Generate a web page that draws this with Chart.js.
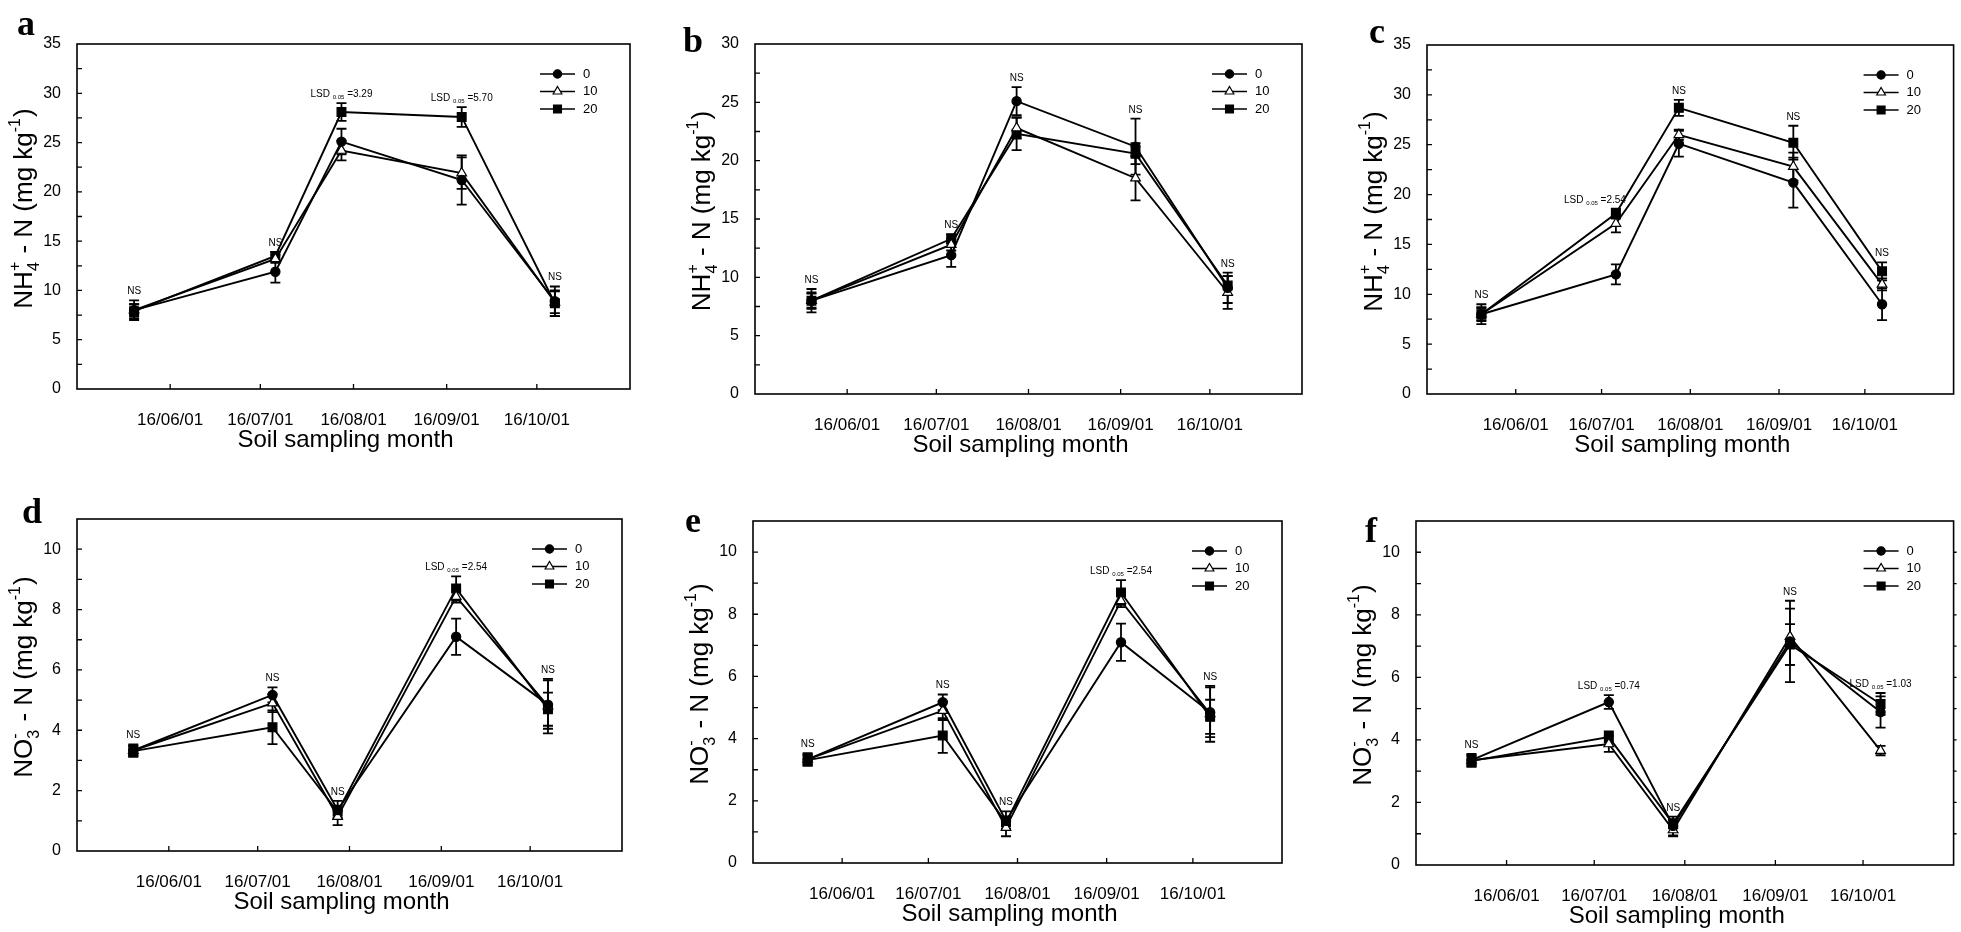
<!DOCTYPE html>
<html>
<head>
<meta charset="utf-8">
<title>Soil NH4+ and NO3- by sampling month</title>
<script src="https://cdn.jsdelivr.net/npm/chart.js@4.4.1/dist/chart.umd.min.js"></script>
<style>
  html, body { margin: 0; padding: 0; background: #fff; }
  body { width: 1961px; height: 932px; position: relative; overflow: hidden; }
</style>
</head>
<body>
<script>
// Sampling dates as day-of-year in 2016 (May 20, Jul 6, Jul 28, Sep 6, Oct 7)
const sampleDays = [141, 188, 210, 250, 281];
const dayMin = 122;  // 2016-05-01
const dayMax = 306;  // 2016-11-01
const monthTicks = [153, 183, 214, 245, 275];
const monthLabels = ['16/06/01', '16/07/01', '16/08/01', '16/09/01', '16/10/01'];
const rates = ['0', '10', '20'];

// a - NH4+
const a0 = [8.0, 11.9, 25.1, 21.2, 8.9];
const a10 = [8.0, 13.2, 24.2, 21.9, 8.8];
const a20 = [7.9, 13.5, 28.1, 27.6, 8.7];
const a0Err = [1.0, 1.1, 1.3, 2.5, 1.5];
const a10Err = [0.6, 0.4, 1.0, 1.6, 1.1];
const a20Err = [0.7, 0.4, 0.9, 1.0, 1.3];
const aLsd = [null, null, '3.29', '5.70', null];

// b - NH4+
const b0 = [8.0, 11.9, 25.1, 21.2, 9.1];
const b10 = [8.0, 12.8, 22.8, 18.5, 8.7];
const b20 = [8.0, 13.3, 22.3, 20.6, 9.3];
const b0Err = [1.0, 1.0, 1.2, 2.4, 1.3];
const b10Err = [0.6, 0.5, 0.9, 1.9, 1.4];
const b20Err = [0.7, 0.4, 1.4, 0.9, 0.8];
const bLsd = [null, null, null, null, null];

// c - NH4+
const c0 = [8.0, 12.0, 25.1, 21.2, 9.0];
const c10 = [8.0, 17.1, 26.0, 22.8, 11.0];
const c20 = [8.0, 18.1, 28.7, 25.2, 12.3];
const c0Err = [1.0, 1.0, 1.3, 2.5, 1.6];
const c10Err = [0.6, 0.9, 0.5, 1.4, 0.6];
const c20Err = [0.7, 0.5, 0.8, 1.7, 0.9];
const cLsd = [null, '2.54', null, null, null];

// d - NO3-
const d0 = [3.33, 5.17, 1.36, 7.1, 4.85];
const d10 = [3.33, 4.9, 1.14, 8.43, 4.8];
const d20 = [3.31, 4.1, 1.3, 8.7, 4.7];
const d0Err = [0.2, 0.25, 0.3, 0.6, 0.8];
const d10Err = [0.15, 0.3, 0.28, 0.2, 0.9];
const d20Err = [0.18, 0.56, 0.2, 0.4, 0.55];
const dLsd = [null, null, null, '2.54', null];

// e - NO3-
const e0 = [3.33, 5.17, 1.36, 7.1, 4.85];
const e10 = [3.33, 4.9, 1.14, 8.43, 4.8];
const e20 = [3.31, 4.1, 1.3, 8.7, 4.7];
const e0Err = [0.2, 0.25, 0.3, 0.6, 0.8];
const e10Err = [0.15, 0.3, 0.28, 0.2, 0.9];
const e20Err = [0.18, 0.56, 0.2, 0.4, 0.55];
const eLsd = [null, null, null, '2.54', null];

// f - NO3-
const f0 = [3.35, 5.21, 1.25, 7.15, 4.89];
const f10 = [3.35, 3.87, 1.12, 7.3, 3.66];
const f20 = [3.33, 4.09, 1.32, 7.05, 5.15];
const f0Err = [0.2, 0.22, 0.3, 1.3, 0.5];
const f10Err = [0.15, 0.25, 0.2, 0.9, 0.15];
const f20Err = [0.18, 0.18, 0.15, 0.65, 0.35];
const fLsd = [null, '0.74', null, null, '1.03'];

const FONT = '"Liberation Sans", Arial, sans-serif';
const SERIF = '"Liberation Serif", "Times New Roman", serif';

// marker looks for the three rates
const styles = ['circle', 'triangle', 'rect'];
const radii = [4.6, 5.6, 6.2];
const fills = ['#000', '#fff', '#000'];

const nh4Title = [{ t: 'NH' }, { sup: '+', sub: '4' }, { t: ' - N (mg kg' }, { sup: '-1' }, { t: ')' }];
const no3Title = [{ t: 'NO' }, { sup: '-', sub: '3' }, { t: ' - N (mg kg' }, { sup: '-1' }, { t: ')' }];

// box = canvas [x, y, w, h]; plot = [left, top, right, bottom] in page pixels
const panels = [
    { letter: 'a', letterAt: [26, 35], box: [0, 0, 660, 466], plot: [77, 44, 630, 389], ymax: 35, step: 2.5, major: 5, title: nh4Title,
      series: [a0, a10, a20], errs: [a0Err, a10Err, a20Err], lsd: aLsd },
    { letter: 'b', letterAt: [33, 52], box: [660, 0, 660, 466], plot: [755, 44, 1302, 394], ymax: 30, step: 2.5, major: 5, title: nh4Title,
      series: [b0, b10, b20], errs: [b0Err, b10Err, b20Err], lsd: bLsd },
    { letter: 'c', letterAt: [57, 43], box: [1320, 0, 641, 466], plot: [1427, 45, 1958, 394], ymax: 35, step: 2.5, major: 5, title: nh4Title,
      series: [c0, c10, c20], errs: [c0Err, c10Err, c20Err], lsd: cLsd, noteRight: [1] },
    { letter: 'd', letterAt: [32, 57], box: [0, 466, 660, 466], plot: [77, 519, 622, 851], ymax: 11, step: 1, major: 2, title: no3Title,
      series: [d0, d10, d20], errs: [d0Err, d10Err, d20Err], lsd: dLsd },
    { letter: 'e', letterAt: [33, 66], box: [660, 466, 660, 466], plot: [753, 521, 1282, 863], ymax: 11, step: 1, major: 2, title: no3Title,
      series: [e0, e10, e20], errs: [e0Err, e10Err, e20Err], lsd: eLsd },
    { letter: 'f', letterAt: [51, 76], box: [1320, 466, 641, 466], plot: [1416, 521, 1958, 865], ymax: 11, step: 1, major: 2, title: no3Title,
      series: [f0, f10, f20], errs: [f0Err, f10Err, f20Err], lsd: fLsd, rightTicks: true }
];

// Draw text with stacked super/subscripts, centred on 0 along the baseline
function drawRich(ctx, parts, size) {
    const small = Math.round(size * 0.62);
    const big = `${size}px ${FONT}`;
    const sm = `${small}px ${FONT}`;
    const widths = parts.map(p => {
        if (p.t) { ctx.font = big; return ctx.measureText(p.t).width; }
        ctx.font = sm;
        return Math.max(p.sup ? ctx.measureText(p.sup).width : 0, p.sub ? ctx.measureText(p.sub).width : 0) + 1;
    });
    let x = -widths.reduce((s, w) => s + w, 0) / 2;
    ctx.textAlign = 'left';
    ctx.textBaseline = 'alphabetic';
    parts.forEach((p, i) => {
        if (p.t) {
            ctx.font = big;
            ctx.fillText(p.t, x, 0);
        } else {
            ctx.font = sm;
            if (p.sup) ctx.fillText(p.sup, x, -size * 0.45);
            if (p.sub) ctx.fillText(p.sub, x, size * 0.25);
        }
        x += widths[i];
    });
}

// "NS" or "LSD 0.05 =x" note; right=true puts its right end just past x
function drawNote(ctx, lsd, x, y, right) {
    ctx.fillStyle = '#000';
    ctx.textBaseline = 'alphabetic';
    if (!lsd) {
        ctx.font = `10px ${FONT}`;
        ctx.textAlign = 'center';
        ctx.fillText('NS', x, y);
        return;
    }
    const pieces = [['LSD ', 10, 0], ['0.05', 6, 2], [' =' + lsd, 10, 0]];
    const ws = pieces.map(([t, s]) => { ctx.font = `${s}px ${FONT}`; return ctx.measureText(t).width; });
    const total = ws.reduce((s, w) => s + w, 0);
    let cx = right ? x + 10 - total : x - total / 2;
    ctx.textAlign = 'left';
    pieces.forEach(([t, s, dy], i) => {
        ctx.font = `${s}px ${FONT}`;
        ctx.fillText(t, cx, y + dy);
        cx += ws[i];
    });
}

function makePlugin(p) {
    return {
        id: 'panelDecor',
        beforeDatasetsDraw(chart) {
            // error bars, drawn under the markers
            const ctx = chart.ctx;
            const ys = chart.scales.y;
            ctx.save();
            ctx.strokeStyle = '#000';
            ctx.lineWidth = 1.8;
            p.series.forEach((vals, k) => {
                const meta = chart.getDatasetMeta(k);
                vals.forEach((v, i) => {
                    const e = p.errs[k][i];
                    const x = meta.data[i].x;
                    const y1 = ys.getPixelForValue(v + e);
                    const y2 = ys.getPixelForValue(v - e);
                    ctx.beginPath();
                    ctx.moveTo(x, y1); ctx.lineTo(x, y2);
                    ctx.moveTo(x - 5, y1); ctx.lineTo(x + 5, y1);
                    ctx.moveTo(x - 5, y2); ctx.lineTo(x + 5, y2);
                    ctx.stroke();
                });
            });
            ctx.restore();
        },
        afterDraw(chart) {
            const ctx = chart.ctx;
            const a = chart.chartArea;
            const xs = chart.scales.x;
            const ys = chart.scales.y;
            ctx.save();
            ctx.strokeStyle = '#000';
            ctx.fillStyle = '#000';

            // frame
            ctx.lineWidth = 1.6;
            ctx.strokeRect(a.left, a.top, a.right - a.left, a.bottom - a.top);

            // inward ticks
            ctx.lineWidth = 1.3;
            ctx.beginPath();
            ys.ticks.forEach(t => {
                const y = ys.getPixelForValue(t.value);
                if (t.value > 0 && t.value < p.ymax) {
                    ctx.moveTo(a.left, y); ctx.lineTo(a.left + 5, y);
                    if (p.rightTicks) { ctx.moveTo(a.right, y); ctx.lineTo(a.right + 3, y); }
                }
            });
            xs.ticks.forEach(t => {
                const x = xs.getPixelForValue(t.value);
                ctx.moveTo(x, a.bottom); ctx.lineTo(x, a.bottom - 5);
            });
            ctx.stroke();

            // legend
            const lx = a.right - 90, mx = a.right - 72.5;
            rates.forEach((r, k) => {
                const y = a.top + 30 + k * 17.5;
                ctx.lineWidth = 1.6;
                ctx.beginPath();
                ctx.moveTo(lx, y); ctx.lineTo(lx + 35, y);
                ctx.stroke();
                ctx.fillStyle = fills[k];
                ctx.lineWidth = 1.2;
                Chart.helpers.drawPoint(ctx, { pointStyle: styles[k], radius: radii[k] * 0.9, rotation: 0, borderWidth: 1.2 }, mx, y);
                ctx.fillStyle = '#000';
                ctx.font = `13px ${FONT}`;
                ctx.textAlign = 'left';
                ctx.textBaseline = 'middle';
                ctx.fillText(r, a.right - 47, y);
            });

            // NS / LSD notes above the highest error bar
            sampleDays.forEach((d, i) => {
                let top = Infinity;
                p.series.forEach((vals, k) => {
                    top = Math.min(top, ys.getPixelForValue(vals[i] + p.errs[k][i]));
                });
                const right = (p.noteRight || []).includes(i);
                drawNote(ctx, p.lsd[i], xs.getPixelForValue(d), top - 6, right);
            });

            // x axis title
            ctx.font = `24px ${FONT}`;
            ctx.textAlign = 'center';
            ctx.textBaseline = 'middle';
            ctx.fillText('Soil sampling month', (a.left + a.right) / 2 - 8, a.bottom + 51);

            // y axis title
            ctx.save();
            ctx.translate(a.left - 54, (a.top + a.bottom) / 2 - 8);
            ctx.rotate(-Math.PI / 2);
            ctx.translate(0, 9);
            drawRich(ctx, p.title, 26);
            ctx.restore();

            // panel letter
            ctx.font = `bold 36px ${SERIF}`;
            ctx.textAlign = 'center';
            ctx.textBaseline = 'alphabetic';
            ctx.fillText(p.letter, p.letterAt[0], p.letterAt[1]);
            ctx.restore();
        }
    };
}

function makeChart(p) {
    const [bx, by, bw, bh] = p.box;
    const [L, T, R, B] = p.plot;
    const cv = document.createElement('canvas');
    cv.width = bw;
    cv.height = bh;
    cv.style.cssText = `position:absolute;left:${bx}px;top:${by}px;width:${bw}px;height:${bh}px`;
    document.body.appendChild(cv);

    new Chart(cv.getContext('2d'), {
        type: 'line',
        data: {
            datasets: rates.map((r, k) => ({
                label: r,
                data: sampleDays.map((d, i) => ({ x: d, y: p.series[k][i] })),
                borderColor: '#000',
                borderWidth: 1.9,
                tension: 0,
                pointStyle: styles[k],
                pointRadius: radii[k],
                pointBackgroundColor: fills[k],
                pointBorderColor: '#000',
                pointBorderWidth: 1.2
            }))
        },
        options: {
            responsive: false,
            animation: false,
            events: [],
            layout: { padding: { left: 0, top: T - by, right: bx + bw - R, bottom: 0 } },
            plugins: { legend: { display: false }, tooltip: { enabled: false } },
            scales: {
                x: {
                    type: 'linear',
                    min: dayMin,
                    max: dayMax,
                    grid: { display: false },
                    border: { display: false },
                    afterBuildTicks: ax => { ax.ticks = monthTicks.map(v => ({ value: v })); },
                    afterFit: ax => { ax.height = by + bh - B; },
                    ticks: {
                        autoSkip: false,
                        maxRotation: 0,
                        padding: 13,
                        color: '#000',
                        font: { family: FONT, size: 17 },
                        callback: (v, i) => monthLabels[i]
                    }
                },
                y: {
                    min: 0,
                    max: p.ymax,
                    grid: { display: false },
                    border: { display: false },
                    afterFit: ax => { ax.width = L - bx; },
                    ticks: {
                        stepSize: p.step,
                        autoSkip: false,
                        padding: 8,
                        color: '#000',
                        font: { family: FONT, size: 16 },
                        callback: v => {
                            const q = v / p.major;
                            return Math.abs(q - Math.round(q)) < 1e-6 && v <= 30 + 5 * (p.major === 5) ? v : '';
                        }
                    }
                }
            }
        },
        plugins: [makePlugin(p)]
    });
}

panels.forEach(makeChart);
</script>
</body>
</html>
